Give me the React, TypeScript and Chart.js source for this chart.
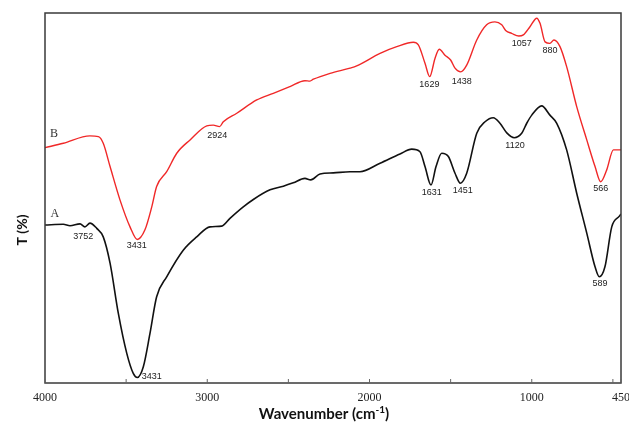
import React, { useEffect, useRef } from "react";
import { Chart, registerables } from "chart.js";

Chart.register(...registerables);

// Sample A (black)
const aWavenumber = [4000, 3887, 3846, 3784, 3754, 3723, 3681, 3641, 3599, 3548, 3496, 3456, 3431, 3394, 3353, 3312, 3250, 3148, 3065, 2983, 2911, 2860, 2778, 2716, 2613, 2531, 2470, 2398, 2362, 2305, 2223, 2120, 2059, 1935, 1812, 1740, 1689, 1658, 1621, 1590, 1555, 1514, 1473, 1440, 1401, 1339, 1288, 1237, 1196, 1154, 1108, 1062, 1031, 1000, 939, 888, 846, 785, 723, 661, 610, 584, 549, 507, 460, 450];
const aTransmittance = [42.7, 42.9, 42.5, 43.0, 42.2, 43.2, 41.8, 39.5, 32.4, 18.8, 8.0, 2.6, 1.5, 4.4, 13.4, 23.3, 28.7, 35.9, 39.5, 42.2, 42.4, 44.5, 47.6, 49.6, 52.2, 53.2, 54.1, 55.3, 54.9, 56.5, 56.8, 57.1, 57.1, 59.4, 61.9, 63.2, 62.5, 58.5, 53.5, 58.5, 62.1, 61.2, 56.7, 54.0, 56.7, 67.5, 70.6, 71.7, 70.2, 67.6, 66.3, 67.5, 70.2, 72.4, 74.9, 72.4, 70.2, 63.0, 51.3, 40.5, 31.4, 28.7, 31.4, 42.2, 45.1, 45.7];

// Sample B (red)
const bWavenumber = [4000, 3887, 3723, 3671, 3641, 3599, 3538, 3476, 3431, 3384, 3342, 3312, 3250, 3188, 3106, 3003, 2963, 2924, 2901, 2818, 2695, 2593, 2490, 2398, 2367, 2346, 2243, 2120, 2079, 1935, 1832, 1730, 1699, 1658, 1629, 1596, 1570, 1535, 1500, 1473, 1438, 1401, 1339, 1278, 1227, 1185, 1159, 1124, 1080, 1052, 1011, 969, 949, 918, 888, 863, 826, 785, 723, 661, 610, 575, 538, 497, 460, 450];
const bTransmittance = [63.6, 64.8, 66.8, 66.6, 64.8, 58.5, 49.5, 42.2, 38.8, 41.4, 47.6, 53.1, 57.1, 62.1, 65.7, 69.5, 69.7, 69.3, 70.6, 72.9, 76.5, 78.3, 80.1, 81.7, 81.6, 82.1, 83.7, 85.1, 85.7, 89.1, 90.9, 92.1, 91.4, 86.4, 82.8, 87.8, 90.2, 88.6, 87.3, 85.1, 84.1, 85.9, 92.7, 96.8, 97.6, 96.8, 95.2, 94.5, 93.8, 94.1, 96.3, 98.6, 97.2, 92.2, 91.8, 92.7, 90.9, 85.5, 74.7, 65.7, 58.5, 54.4, 57.6, 63.0, 63.0, 63.0];

// Peak annotations (text, anchor in data units)
const aPeakLabels = ["3752", "3431", "1631", "1451", "1120", "589"];
const aPeakWn = [3764, 3342, 1617, 1426, 1103, 579];
const aPeakT = [39.5, 1.7, 51.4, 51.9, 64.1, 26.8];

const bPeakLabels = ["3431", "2924", "1629", "1438", "1057", "880", "566"];
const bPeakWn = [3435, 2938, 1631, 1432, 1062, 888, 575];
const bPeakT = [37.1, 67.0, 80.7, 81.6, 91.8, 89.8, 52.6];

// Series letters
const seriesNames = ["A", "B"];
const seriesNameWn = [3939, 3945];
const seriesNameT = [45.7, 67.3];

// Axis ticks
const xTickValues = [4000, 3500, 3000, 2500, 2000, 1500, 1000, 500, 450];
const xTickLabels = ["4000", "", "3000", "", "2000", "", "1000", "", "450"];

const zip = (xs: number[], ys: number[]) => xs.map((v, i) => ({ x: v, y: ys[i] }));

const overlayPlugin = {
  id: "overlay",
  afterDatasetsDraw(chart: any) {
    const { ctx, chartArea: ca, scales } = chart;
    const x = scales.x;
    const y = scales.y;
    ctx.save();

    // frame
    ctx.strokeStyle = "#3a3a3a";
    ctx.lineWidth = 1.5;
    ctx.strokeRect(ca.left, ca.top, ca.right - ca.left, ca.bottom - ca.top);

    // inward ticks and tick labels
    ctx.lineWidth = 1;
    ctx.textAlign = "center";
    ctx.textBaseline = "middle";
    ctx.font = "12px 'Liberation Serif', serif";
    xTickValues.forEach((v, i) => {
      const px = x.getPixelForValue(v);
      ctx.strokeStyle = "#666";
      ctx.beginPath();
      ctx.moveTo(px, ca.bottom);
      ctx.lineTo(px, ca.bottom - 4);
      ctx.stroke();
      if (xTickLabels[i]) {
        ctx.fillStyle = "#222";
        ctx.fillText(xTickLabels[i], px, ca.bottom + 14.5);
      }
    });

    // peak labels
    ctx.fillStyle = "#222";
    ctx.font = "9px 'Liberation Sans', Arial, sans-serif";
    aPeakLabels.forEach((t, i) => {
      ctx.fillText(t, x.getPixelForValue(aPeakWn[i]), y.getPixelForValue(aPeakT[i]));
    });
    bPeakLabels.forEach((t, i) => {
      ctx.fillText(t, x.getPixelForValue(bPeakWn[i]), y.getPixelForValue(bPeakT[i]));
    });

    // series letters
    ctx.font = "12px 'Liberation Serif', serif";
    ctx.fillStyle = "#333";
    seriesNames.forEach((t, i) => {
      ctx.fillText(t, x.getPixelForValue(seriesNameWn[i]), y.getPixelForValue(seriesNameT[i]));
    });

    // y title
    ctx.save();
    ctx.translate(22, 230);
    ctx.rotate(-Math.PI / 2);
    ctx.font = "bold 14px Lato, sans-serif";
    ctx.fillStyle = "#111";
    ctx.fillText("T (%)", 0, 0);
    ctx.restore();

    // x title with superscript
    const main = "Wavenumber (cm";
    const sup = "-1";
    const end = ")";
    ctx.fillStyle = "#111";
    ctx.textAlign = "left";
    ctx.textBaseline = "alphabetic";
    ctx.font = "bold 15px Lato, sans-serif";
    const wMain = ctx.measureText(main).width;
    const wEnd = ctx.measureText(end).width;
    ctx.font = "bold 10px Lato, sans-serif";
    const wSup = ctx.measureText(sup).width;
    const total = wMain + wSup + wEnd;
    const cx = 324;
    const base = 419;
    let sx = cx - total / 2;
    ctx.font = "bold 15px Lato, sans-serif";
    ctx.fillText(main, sx, base);
    sx += wMain;
    ctx.font = "bold 10px Lato, sans-serif";
    ctx.fillText(sup, sx, base - 6);
    sx += wSup;
    ctx.font = "bold 15px Lato, sans-serif";
    ctx.fillText(end, sx, base);

    ctx.restore();
  },
};

export default function App() {
  const canvasRef = useRef<HTMLCanvasElement | null>(null);

  useEffect(() => {
    document.body.style.margin = "0";
    const canvas = canvasRef.current;
    if (!canvas) return;
    const chart = new Chart(canvas, {
      type: "line",
      data: {
        datasets: [
          {
            label: "A",
            data: zip(aWavenumber, aTransmittance),
            borderColor: "#111111",
            borderWidth: 1.6,
            pointRadius: 0,
            cubicInterpolationMode: "monotone",
            fill: false,
          },
          {
            label: "B",
            data: zip(bWavenumber, bTransmittance),
            borderColor: "#f02828",
            borderWidth: 1.4,
            pointRadius: 0,
            cubicInterpolationMode: "monotone",
            fill: false,
          },
        ],
      },
      options: {
        animation: false,
        responsive: false,
        maintainAspectRatio: false,
        layout: { padding: { left: 45, right: 8, top: 13, bottom: 42 } },
        plugins: {
          legend: { display: false },
          tooltip: { enabled: false },
          title: { display: false },
        },
        scales: {
          x: {
            type: "linear",
            reverse: true,
            min: 450,
            max: 4000,
            display: false,
          },
          y: {
            type: "linear",
            min: 0,
            max: 100,
            display: false,
          },
        },
      },
      plugins: [overlayPlugin],
    });
    return () => chart.destroy();
  }, []);

  return (
    <div style={{ position: "fixed", left: 0, top: 0, width: 629, height: 425, background: "#fff" }}>
      <canvas ref={canvasRef} width={629} height={425} style={{ width: 629, height: 425 }} />
    </div>
  );
}
